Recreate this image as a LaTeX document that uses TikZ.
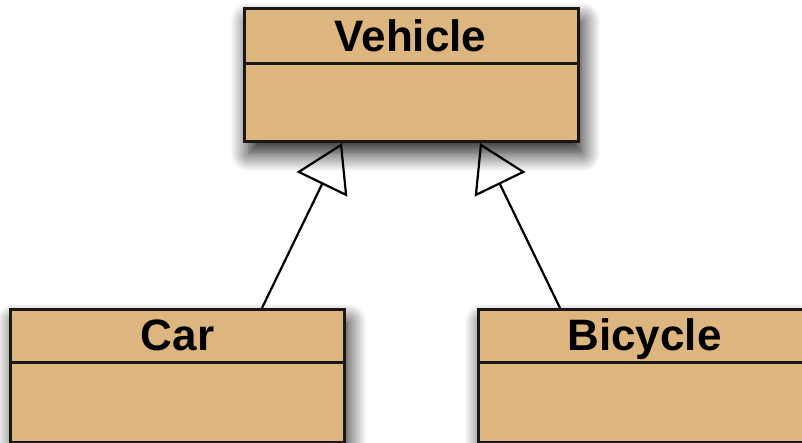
\documentclass[tikz,border=0pt]{standalone}
\usepackage{fontspec}
\setmainfont{Liberation Sans}
\usetikzlibrary{arrows.meta,shadows.blur}
\definecolor{classfill}{RGB}{220,181,127}
\definecolor{classedge}{RGB}{26,24,22}

\begin{document}
\begin{tikzpicture}[x=1pt,y=-1pt,
  classbox/.style={draw=classedge, line width=3pt, fill=classfill,
    minimum width=334pt, minimum height=133pt, inner sep=0pt,
    blur shadow={shadow xshift=4pt, shadow yshift=-12pt,
      shadow blur radius=18pt, shadow blur steps=14, shadow opacity=90}},
  divider/.style={draw=classedge, line width=3pt},
  classname/.style={font=\bfseries\fontsize{44}{44}\selectfont,
    text=black, inner sep=0pt, anchor=base},
  inherits/.style={draw=black, line width=2.2pt,
    -{Triangle[open, length=46pt, width=56pt, line width=2.2pt]}}]
\useasboundingbox (0,0) rectangle (802,442);
\clip (0,0) rectangle (802,442);

% superclass
\node[classbox] (veh) at (411.5,75) {};
\draw[divider] ([yshift=-56pt]veh.north west) -- ([yshift=-56pt]veh.north east);
\node[classname] (vehname) at (410.5,51) {Vehicle};

% subclasses
\node[classbox] (car) at (177.5,376) {};
\draw[divider] ([yshift=-54pt]car.north west) -- ([yshift=-54pt]car.north east);
\node[classname] (carname) at (177.5,350) {Car};

\node[classbox] (bike) at (645.5,376) {};
\draw[divider] ([yshift=-54pt]bike.north west) -- ([yshift=-54pt]bike.north east);
\node[classname] (bikename) at (644.5,350) {Bicycle};

% generalisation arrows
\draw[inherits] ([xshift=84.5pt]car.north) -- ([xshift=-69.5pt]veh.south);
\draw[inherits] ([xshift=-85.5pt]bike.north) -- ([xshift=68.5pt]veh.south);
\end{tikzpicture}
\end{document}
